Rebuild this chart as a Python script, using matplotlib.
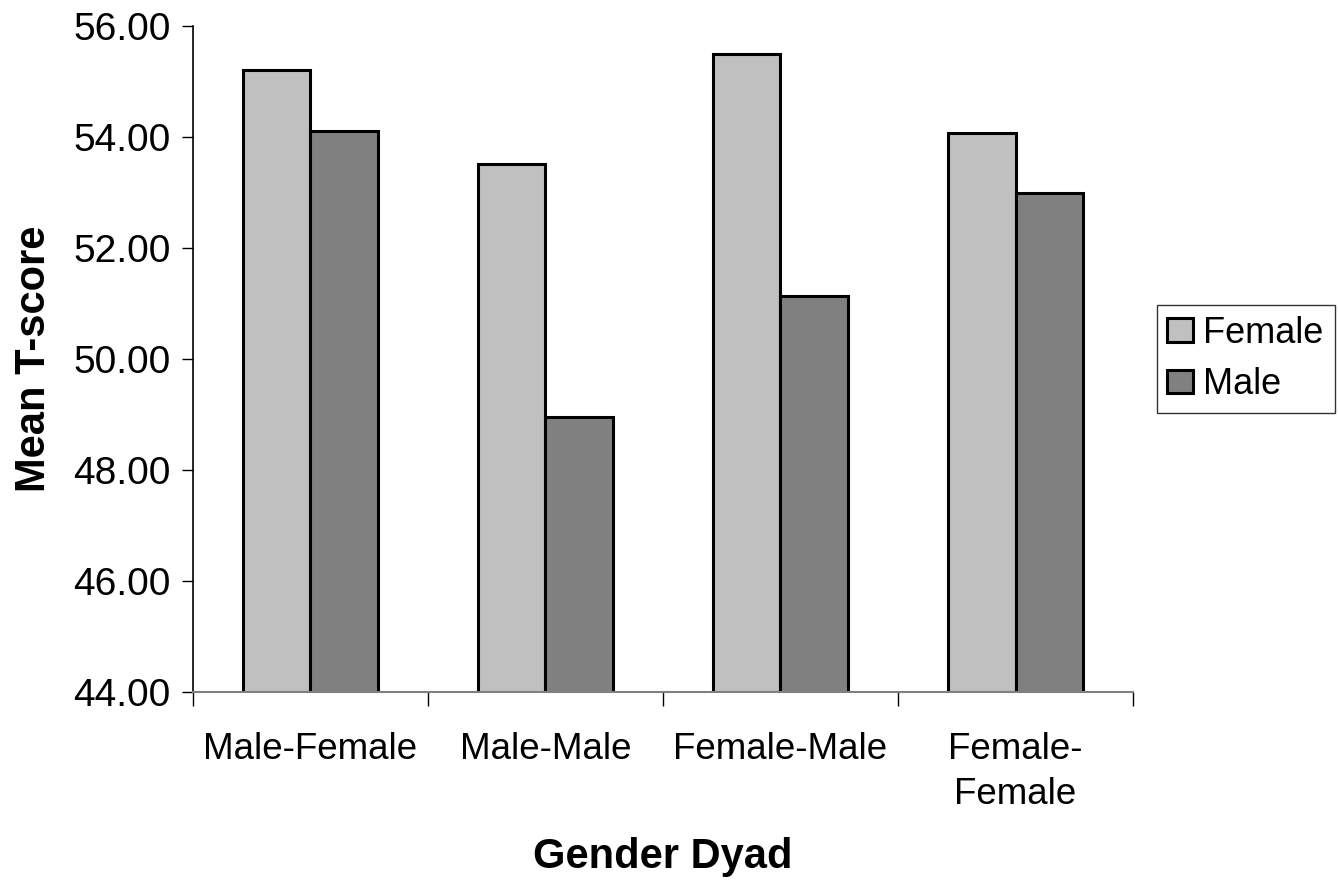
import numpy as np
import matplotlib
matplotlib.use("Agg")
import matplotlib.pyplot as plt
from matplotlib.ticker import FixedLocator

plt.rcParams['font.family'] = ['Liberation Sans', 'DejaVu Sans']

# ===== Data =====
dyads = ["Male-Female", "Male-Male", "Female-Male", "Female-\nFemale"]
female = [55.21, 53.51, 55.49, 54.07]
male = [54.11, 48.95, 51.13, 52.99]

# ===== Plot =====
fig = plt.figure(figsize=(13.38, 8.82), dpi=100)
ax = fig.add_axes([0.1442, 0.2154, 0.7026, 0.7551])

x = np.arange(len(dyads))
w = 0.287
ax.bar(x - w / 2, female, w, color='#c0c0c0', edgecolor='black',
       linewidth=2.2, label='Female')
ax.bar(x + w / 2, male, w, color='#808080', edgecolor='black',
       linewidth=2.2, label='Male')

ax.set_ylim(44, 56)
ax.set_xlim(-0.5, len(dyads) - 0.5)
yt = np.arange(44, 56.1, 2)
ax.set_yticks(yt)
ax.set_yticklabels([f"{v:.2f}" for v in yt], fontsize=28)

ax.set_xticks(x)
ax.set_xticklabels(dyads, fontsize=26.5, linespacing=1.35, va='top')
ax.xaxis.set_minor_locator(FixedLocator(np.arange(-0.5, len(dyads), 1)))
ax.tick_params(axis='x', which='major', length=0, pad=29)
ax.tick_params(axis='x', which='minor', length=10, width=1, color='black')
ax.tick_params(axis='y', length=8, width=1, pad=8)

ax.spines['top'].set_visible(False)
ax.spines['right'].set_visible(False)
ax.spines['bottom'].set_color('#808080')
ax.spines['bottom'].set_linewidth(1.5)
ax.spines['left'].set_linewidth(1.2)

ax.set_ylabel("Mean T-score", fontsize=30, fontweight='bold', labelpad=14)
ax.set_xlabel("Gender Dyad", fontsize=30, fontweight='bold', va='center')
ax.xaxis.set_label_coords(0.5, -0.248)

leg = ax.legend(loc='center left', bbox_to_anchor=(1.025, 0.5), fontsize=26,
                frameon=True, fancybox=False, edgecolor='black',
                handlelength=0.72, handleheight=0.62, handletextpad=0.28,
                borderpad=0.3, labelspacing=0.45, borderaxespad=0)
leg.get_frame().set_linewidth(1)
for p in leg.get_patches():
    p.set_linewidth(2.2)

fig.savefig("out.png", dpi=100)
